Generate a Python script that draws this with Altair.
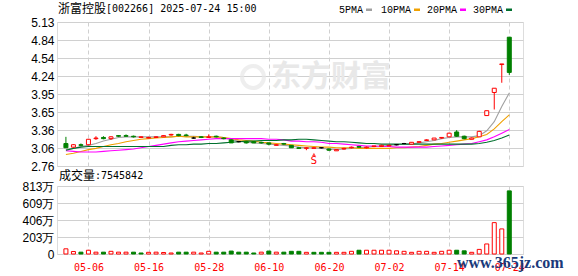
import json
import altair as alt
import pandas as pd

# ---------------- data ----------------
dates = ["04-28", "04-29", "04-30", "05-06", "05-07", "05-08", "05-09", "05-12", "05-13", "05-14",
         "05-15", "05-16", "05-19", "05-20", "05-21", "05-22", "05-23", "05-26", "05-27", "05-28",
         "05-29", "05-30", "06-03", "06-04", "06-05", "06-06", "06-09", "06-10", "06-11", "06-12",
         "06-13", "06-16", "06-17", "06-18", "06-19", "06-20", "06-23", "06-24", "06-25", "06-26",
         "06-27", "06-30", "07-01", "07-02", "07-03", "07-04", "07-07", "07-08", "07-09", "07-10",
         "07-11", "07-14", "07-15", "07-16", "07-17", "07-18", "07-21", "07-22", "07-23", "07-24"]

opens = [3.13, 3.07, 3.11, 3.11, 3.21, 3.23, 3.21, 3.26, 3.26, 3.25,
         3.23, 3.22, 3.23, 3.24, 3.27, 3.28, 3.27, 3.22, 3.24, 3.23,
         3.25, 3.22, 3.19, 3.16, 3.16, 3.16, 3.15, 3.14, 3.10, 3.13,
         3.10, 3.06, 3.05, 3.05, 3.06, 3.04, 3.01, 3.04, 3.06, 3.08,
         3.06, 3.08, 3.08, 3.09, 3.11, 3.13, 3.12, 3.15, 3.18, 3.19,
         3.22, 3.24, 3.32, 3.25, 3.20, 3.24, 3.59, 3.97, 4.43, 4.88]
highs = [3.24, 3.12, 3.13, 3.20, 3.25, 3.25, 3.25, 3.27, 3.28, 3.26,
         3.25, 3.24, 3.25, 3.27, 3.29, 3.29, 3.29, 3.24, 3.25, 3.28,
         3.26, 3.23, 3.20, 3.17, 3.17, 3.17, 3.16, 3.14, 3.12, 3.14,
         3.10, 3.07, 3.07, 3.07, 3.07, 3.05, 3.03, 3.06, 3.08, 3.09,
         3.08, 3.09, 3.11, 3.11, 3.12, 3.14, 3.15, 3.17, 3.20, 3.22,
         3.23, 3.31, 3.35, 3.26, 3.23, 3.34, 3.67, 4.04, 4.44, 4.88]
lows = [3.06, 3.06, 3.09, 3.10, 3.19, 3.20, 3.19, 3.24, 3.24, 3.23,
        3.23, 3.22, 3.22, 3.24, 3.26, 3.25, 3.25, 3.21, 3.22, 3.22,
        3.23, 3.20, 3.14, 3.15, 3.13, 3.14, 3.13, 3.10, 3.10, 3.11,
        3.06, 3.04, 3.02, 3.05, 3.05, 3.01, 3.01, 3.03, 3.05, 3.06,
        3.05, 3.07, 3.08, 3.09, 3.10, 3.12, 3.12, 3.15, 3.18, 3.19,
        3.21, 3.24, 3.24, 3.20, 3.20, 3.24, 3.59, 3.69, 4.13, 4.26]
closes = [3.06, 3.11, 3.10, 3.20, 3.22, 3.21, 3.24, 3.25, 3.25, 3.24,
          3.24, 3.23, 3.24, 3.26, 3.28, 3.26, 3.26, 3.22, 3.23, 3.24,
          3.24, 3.21, 3.14, 3.16, 3.14, 3.14, 3.14, 3.12, 3.11, 3.12,
          3.06, 3.05, 3.06, 3.06, 3.06, 3.02, 3.03, 3.05, 3.07, 3.07,
          3.07, 3.09, 3.10, 3.10, 3.11, 3.13, 3.15, 3.16, 3.19, 3.22,
          3.23, 3.30, 3.25, 3.21, 3.22, 3.33, 3.67, 4.04, 4.44, 4.30]

ma5 = [3.03, 3.05, 3.08, 3.10, 3.13, 3.17, 3.20, 3.23, 3.24, 3.24,
       3.24, 3.24, 3.24, 3.24, 3.24, 3.25, 3.25, 3.25, 3.24, 3.24,
       3.24, 3.23, 3.19, 3.17, 3.15, 3.14, 3.13, 3.12, 3.11, 3.10,
       3.09, 3.07, 3.06, 3.06, 3.05, 3.04, 3.03, 3.04, 3.05, 3.06,
       3.07, 3.08, 3.09, 3.10, 3.11, 3.12, 3.12, 3.14, 3.16, 3.18,
       3.21, 3.23, 3.24, 3.24, 3.24, 3.26, 3.34, 3.49, 3.74, 3.96]
ma10 = [2.95, 2.97, 3.00, 3.03, 3.05, 3.08, 3.11, 3.13, 3.16, 3.18,
        3.20, 3.21, 3.22, 3.23, 3.24, 3.25, 3.24, 3.24, 3.24, 3.24,
        3.24, 3.23, 3.21, 3.19, 3.18, 3.17, 3.15, 3.14, 3.13, 3.12,
        3.11, 3.10, 3.09, 3.08, 3.07, 3.07, 3.06, 3.06, 3.06, 3.05,
        3.05, 3.05, 3.05, 3.05, 3.06, 3.06, 3.07, 3.08, 3.10, 3.12,
        3.13, 3.15, 3.17, 3.19, 3.21, 3.24, 3.28, 3.37, 3.49, 3.60]
ma20 = [3.01, 3.00, 2.99, 2.99, 2.99, 3.00, 3.01, 3.02, 3.03, 3.04,
        3.06, 3.08, 3.10, 3.12, 3.14, 3.16, 3.17, 3.18, 3.19, 3.20,
        3.21, 3.21, 3.21, 3.21, 3.21, 3.21, 3.21, 3.20, 3.20, 3.19,
        3.17, 3.17, 3.16, 3.16, 3.15, 3.13, 3.13, 3.12, 3.11, 3.10,
        3.09, 3.09, 3.08, 3.08, 3.07, 3.07, 3.07, 3.07, 3.07, 3.08,
        3.09, 3.10, 3.11, 3.12, 3.13, 3.16, 3.19, 3.24, 3.30, 3.36]
ma30 = [3.02, 3.05, 3.07, 3.08, 3.08, 3.08, 3.08, 3.08, 3.08, 3.08,
        3.08, 3.08, 3.08, 3.08, 3.10, 3.11, 3.11, 3.12, 3.12, 3.13,
        3.13, 3.14, 3.15, 3.16, 3.17, 3.17, 3.18, 3.18, 3.18, 3.19,
        3.19, 3.20, 3.20, 3.19, 3.18, 3.17, 3.16, 3.16, 3.15, 3.14,
        3.13, 3.13, 3.12, 3.12, 3.12, 3.12, 3.12, 3.12, 3.12, 3.12,
        3.12, 3.12, 3.12, 3.12, 3.12, 3.13, 3.15, 3.18, 3.22, 3.27]

# volume in 万 (10,000 shares)
volume_wan = [62, 30, 22, 45, 22, 22, 32, 22, 22, 22,
              12, 20, 22, 18, 12, 22, 22, 22, 12, 32,
              22, 22, 35, 22, 22, 12, 22, 35, 22, 22,
              32, 32, 20, 20, 20, 20, 20, 20, 32, 45,
              45, 45, 45, 45, 38, 32, 20, 32, 32, 20,
              32, 45, 45, 38, 20, 55, 120, 375, 300, 754.5842]
vol_up = [1, 1, 0, 1, 1, 0, 1, 1, 1, 0,
          0, 1, 1, 1, 1, 0, 0, 1, 1, 1,
          0, 0, 0, 0, 0, 0, 1, 0, 1, 0,
          0, 0, 1, 0, 0, 0, 1, 1, 1, 0,
          1, 1, 1, 1, 1, 1, 1, 1, 1, 1,
          1, 1, 0, 0, 1, 1, 1, 1, 1, 0]

price_labels = ["2.76", "3.06", "3.36", "3.65", "3.95", "4.24", "4.54", "4.84", "5.13"]
vol_labels = ["0", "203万", "406万", "609万", "813万"]
date_ticks = ["05-06", "05-16", "05-28", "06-10", "06-20", "07-02", "07-14", "07-24"]
ma_names = ["5PMA", "10PMA", "20PMA", "30PMA"]
ma_colors = ["#A0A0A0", "#F0A000", "#FF00FF", "#00702E"]
title_name = "浙富控股"
title_rest = "[002266] 2025-07-24 15:00"
vol_title_cn = "成交量"
vol_title_rest = ":7545842"
dividend_day = "06-18"

# ---------------- frames ----------------
N = len(dates)
idx = list(range(N))


def direction(o, c):
    if c > o:
        return "up"
    if c < o:
        return "down"
    return "flat"


candles = pd.DataFrame({"i": idx, "date": dates, "open": opens, "high": highs,
                        "low": lows, "close": closes,
                        "dir": [direction(o, c) for o, c in zip(opens, closes)]})
ma_df = pd.concat([pd.DataFrame({"i": idx, "ma": name, "v": vals})
                   for name, vals in zip(ma_names, [ma5, ma10, ma20, ma30])])
vol_df = pd.DataFrame({"i": idx, "vol": volume_wan,
                       "dir": ["up" if u else "down" for u in vol_up]})
marker_df = candles[candles["date"] == dividend_day]

p_min, p_max = float(price_labels[0]), float(price_labels[-1])
p_step = (p_max - p_min) / (len(price_labels) - 1)
price_tick_vals = [p_min + k * p_step for k in range(len(price_labels))]
v_max = float(vol_labels[-1].replace("万", ""))
v_step = v_max / (len(vol_labels) - 1)
vol_tick_vals = [k * v_step for k in range(len(vol_labels))]
date_tick_idx = [dates.index(d) for d in date_ticks]

GRID = "#D0D0D0"
RED = "#FF0000"
GREEN = "#008000"
x_scale = alt.Scale(domain=[-0.52, 60.16], nice=False, zero=False)
y_scale = alt.Scale(domain=[p_min, p_max], nice=False, zero=False)
v_scale = alt.Scale(domain=[0, v_max], nice=False)
dir_stroke = alt.Scale(domain=["up", "down", "flat"], range=[RED, GREEN, "#000000"])
dir_fill = alt.Scale(domain=["up", "down", "flat"], range=["#FFFFFF", GREEN, "#000000"])

x_axis_main = alt.Axis(values=date_tick_idx, grid=True, gridDash=[4, 3], gridColor=GRID,
                       labels=False, ticks=False, domain=False, title=None, tickSize=0)
y_axis_main = alt.Axis(values=price_tick_vals, grid=True, gridColor=GRID, ticks=False, tickSize=0,
                       domain=False, title=None,
                       labelExpr=json.dumps(price_labels) + f"[round((datum.value - {p_min}) / {p_step})]",
                       labelFont="Liberation Sans", labelFontSize=12, labelColor="#000000",
                       labelPadding=3, minExtent=40, maxExtent=40)
x_axis_vol = alt.Axis(values=date_tick_idx, grid=True, gridDash=[4, 3], gridColor=GRID,
                      labelExpr=json.dumps(dates) + "[datum.value]", ticks=False, tickSize=0,
                      domain=False, title=None, labelColor=RED, labelFont="DejaVu Sans Mono",
                      labelFontSize=10, labelPadding=13, labelBaseline="middle")
y_axis_vol = alt.Axis(values=vol_tick_vals, grid=True, gridColor=GRID, ticks=False, tickSize=0,
                      domain=False, title=None,
                      labelExpr=json.dumps(vol_labels) + f"[round(datum.value / {v_step})]",
                      labelFont="Liberation Sans", labelFontSize=12, labelColor="#000000",
                      labelPadding=3, minExtent=40, maxExtent=40)

X = alt.X("i:Q", scale=x_scale, axis=x_axis_main)
XV = alt.X("i:Q", scale=x_scale, axis=x_axis_vol)

base = alt.Chart(candles)
wick = base.mark_rule(strokeWidth=1).encode(
    x=X, y=alt.Y("low:Q", scale=y_scale, axis=y_axis_main), y2="high:Q",
    stroke=alt.Stroke("dir:N", scale=dir_stroke, legend=None))
body = base.mark_bar(size=4, strokeWidth=1).encode(
    x=X, y=alt.Y("open:Q", scale=y_scale, axis=y_axis_main), y2="close:Q",
    fill=alt.Fill("dir:N", scale=dir_fill, legend=None),
    stroke=alt.Stroke("dir:N", scale=dir_stroke, legend=None))
lines = alt.Chart(ma_df).mark_line(strokeWidth=1.1).encode(
    x=X, y=alt.Y("v:Q", scale=y_scale, axis=y_axis_main),
    color=alt.Color("ma:N", scale=alt.Scale(domain=ma_names, range=ma_colors), legend=None),
    detail="ma:N")

one = pd.DataFrame({"k": [0]})
watermark = alt.Chart(one).mark_text(text="东方财富", font="Noto Sans CJK SC", fontSize=30,
                                     fontWeight="bold", color="#E8E8E8", align="left",
                                     baseline="middle").encode(x=alt.value(214), y=alt.value(55))
wm_logo = alt.Chart(one).mark_point(shape="circle", size=480, strokeWidth=4, color="#E8E8E8",
                                    filled=False).encode(x=alt.value(196), y=alt.value(55))
title1 = alt.Chart(one).mark_text(text=title_name, font="Noto Sans CJK SC", fontSize=12,
                                  align="left", baseline="middle", color="#000000").encode(
    x=alt.value(1), y=alt.value(-13))
title2 = alt.Chart(one).mark_text(text=title_rest, font="DejaVu Sans Mono", fontSize=10,
                                  align="left", baseline="middle", color="#000000").encode(
    x=alt.value(49), y=alt.value(-13))

legend_layers = []
leg_x = [282, 324, 370, 416]
for name, col, lx in zip(ma_names, ma_colors, leg_x):
    legend_layers.append(alt.Chart(one).mark_text(text=name, font="Liberation Mono", fontSize=10,
                                                  align="left", baseline="middle",
                                                  color="#000000").encode(
        x=alt.value(lx), y=alt.value(-12)))
    sw = lx + 6 * len(name) + 3
    legend_layers.append(alt.Chart(one).mark_rect(color=col).encode(
        x=alt.value(sw), x2=alt.value(sw + 6), y=alt.value(-13.5), y2=alt.value(-11)))

marker_tri = alt.Chart(marker_df).mark_point(shape="triangle-up", filled=True, color=RED,
                                             size=14, yOffset=6).encode(
    x=X, y=alt.Y("low:Q", scale=y_scale, axis=y_axis_main))
marker_s = alt.Chart(marker_df).mark_text(text="S", font="DejaVu Sans Mono", fontSize=11,
                                          color=RED, yOffset=13, baseline="middle").encode(
    x=X, y=alt.Y("low:Q", scale=y_scale, axis=y_axis_main))

main = alt.layer(watermark, wm_logo, lines, wick, body, marker_tri, marker_s,
                 title1, title2, *legend_layers).properties(width=466, height=144)

vbars = alt.Chart(vol_df).mark_bar(size=4, strokeWidth=1).encode(
    x=XV, y=alt.Y("vol:Q", scale=v_scale, axis=y_axis_vol),
    fill=alt.Fill("dir:N", scale=dir_fill, legend=None),
    stroke=alt.Stroke("dir:N", scale=dir_stroke, legend=None))
vt1 = alt.Chart(one).mark_text(text=vol_title_cn, font="Noto Sans CJK SC", fontSize=12,
                               align="left", baseline="middle", color="#000000").encode(
    x=alt.value(2), y=alt.value(-10))
vt2 = alt.Chart(one).mark_text(text=vol_title_rest, font="DejaVu Sans Mono", fontSize=10,
                               align="left", baseline="middle", color="#000000").encode(
    x=alt.value(38), y=alt.value(-10))
site = alt.Chart(one).mark_text(text="www.365jz.com", font="Liberation Serif", fontSize=16,
                                fontWeight="bold", color="#1A3A7A", align="left",
                                baseline="middle").encode(x=alt.value(400), y=alt.value(77))

vol = alt.layer(vbars, vt1, vt2, site).properties(width=466, height=68)

chart = alt.vconcat(main, vol, spacing=-4).properties(
    padding={"left": 16, "top": 2, "right": 0, "bottom": 0}
).configure_view(stroke="#999999", strokeWidth=1).configure(background="#FFFFFF")

chart.save("out.html", embed_options={"renderer": "svg", "actions": False})
